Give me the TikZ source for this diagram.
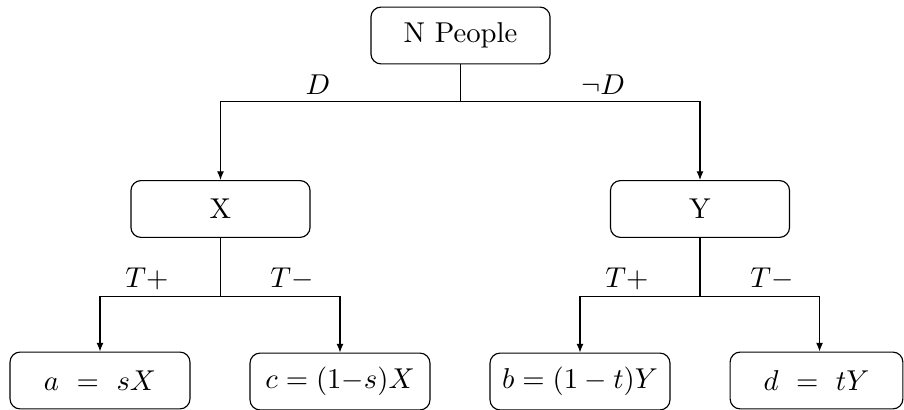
\documentclass[tikz,border=0pt]{standalone}
\usetikzlibrary{arrows.meta,calc}
\begin{document}
\begin{tikzpicture}[x=0.3484pt,y=-0.3484pt,
  box/.style={draw,rounded corners=3.5pt,minimum height=19.8pt,inner sep=2pt},
  arr/.style={-{Latex[length=3pt,width=2.4pt]}}]
\useasboundingbox (0,0) rectangle (904,410);
\node[box,minimum width=62.4pt] (np) at (460.5,35.5) {N People};
\node[box,minimum width=62.4pt] (X) at (220.5,209) {X};
\node[box,minimum width=62.4pt] (Y) at (700,209) {Y};
\node[box,minimum width=62.7pt] (a) at (100,380.5) {$a\ =\ sX$};
\node[box,minimum width=62.7pt] (c) at (340,381.5) {$c = (1{-}s)X$};
\node[box,minimum width=62.7pt] (b) at (580,381.5) {$b = (1-t)Y$};
\node[box,minimum width=60.2pt] (d) at (816.5,380.5) {$d\ =\ tY$};
\coordinate (h0) at (460.5,101.5);
\coordinate (hx) at (220.5,296.5);
\coordinate (hy) at (700,296.5);
\coordinate (dt) at ($(d.north west)+(90,0)$);
\draw (np) -- (h0);
\draw[arr] (h0) -| (X.north);
\draw[arr] (h0) -| (Y.north);
\draw (X) -- (hx);
\draw[arr] (hx) -| (a.north);
\draw[arr] (hx) -| (c.north);
\draw (Y) -- (hy);
\draw[arr] (hy) -| (b.north);
\draw[arr] (hy) -| (dt);
\node (lD) at (318,85) {$D$};
\node (lnD) at (603,85) {$\neg D$};
\node (l1) at (147,279) {$T+$};
\node (l2) at (292,279) {$T-$};
\node (l3) at (627,279) {$T+$};
\node (l4) at (772,279) {$T-$};
\end{tikzpicture}
\end{document}
